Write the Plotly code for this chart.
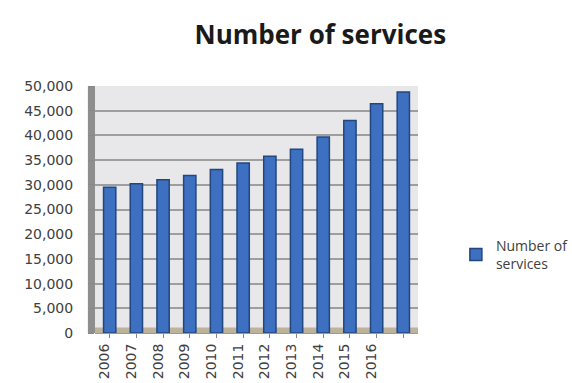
import plotly.graph_objects as go

# Annual number of services
years = ["2006", "2007", "2008", "2009", "2010", "2011", "2012", "2013", "2014", "2015", "2016", ""]
services = [29500, 30200, 31000, 31900, 33100, 34400, 35800, 37200, 39700, 43000, 46400, 48800]
y_ticks = [0, 5000, 10000, 15000, 20000, 25000, 30000, 35000, 40000, 45000, 50000]

positions = list(range(len(years)))

fig = go.Figure()
fig.add_trace(go.Bar(
    x=positions,
    y=services,
    name="Number of<br>services",
    marker=dict(color="#3D70C0", line=dict(color="#22467E", width=1.5)),
    width=0.46,
))

fig.update_layout(
    width=572,
    height=383,
    margin=dict(l=95, r=154, t=86, b=50, autoexpand=False),
    paper_bgcolor="white",
    plot_bgcolor="#E8E8EB",
    title=dict(
        text="<b>Number of services</b>",
        x=0.56, xanchor="center",
        y=0.91, yanchor="middle",
        font=dict(family="Open Sans", size=26, color="#1A1A1A"),
    ),
    font=dict(family="DejaVu Sans", size=14, color="#404040"),
    showlegend=True,
    legend=dict(
        xref="container", yref="container",
        x=0.797, xanchor="left",
        y=0.335, yanchor="middle",
        font=dict(family="Open Sans", size=14, color="#404040"),
        bgcolor="rgba(0,0,0,0)",
        itemwidth=30,
    ),
    xaxis=dict(
        tickmode="array",
        tickvals=positions,
        ticktext=years,
        tickangle=-90,
        range=[-0.55, len(years) - 0.45],
        showgrid=False,
        ticks="outside",
        ticklen=4,
        tickcolor="#888888",
        showline=True,
        linecolor="#9A9A9A",
        linewidth=1,
        ticklabelshift=-5,
        automargin=False,
        tickfont=dict(family="DejaVu Sans", size=14, color="#404040"),
    ),
    yaxis=dict(
        range=[0, 50000],
        tickmode="array",
        tickvals=y_ticks,
        tickformat=",",
        showgrid=True,
        gridcolor="#9E9E9E",
        gridwidth=1.5,
        ticks="outside",
        ticklen=6,
        tickcolor="#888888",
        zeroline=False,
        ticklabelstandoff=12,
        automargin=False,
        tickfont=dict(family="DejaVu Sans", size=14, color="#404040"),
    ),
    bargap=0.5,
)

# Side wall and floor of the chart box
fig.add_shape(type="rect", xref="paper", yref="paper",
              x0=-0.022, x1=0.0, y0=0.0, y1=1.0,
              fillcolor="#8E8E8E", line=dict(width=0), layer="below")
fig.add_shape(type="rect", xref="paper", yref="paper",
              x0=0.0, x1=1.0, y0=0.0, y1=0.022,
              fillcolor="#BDB29B", line=dict(width=0), layer="below")

fig.write_html("out.html")
